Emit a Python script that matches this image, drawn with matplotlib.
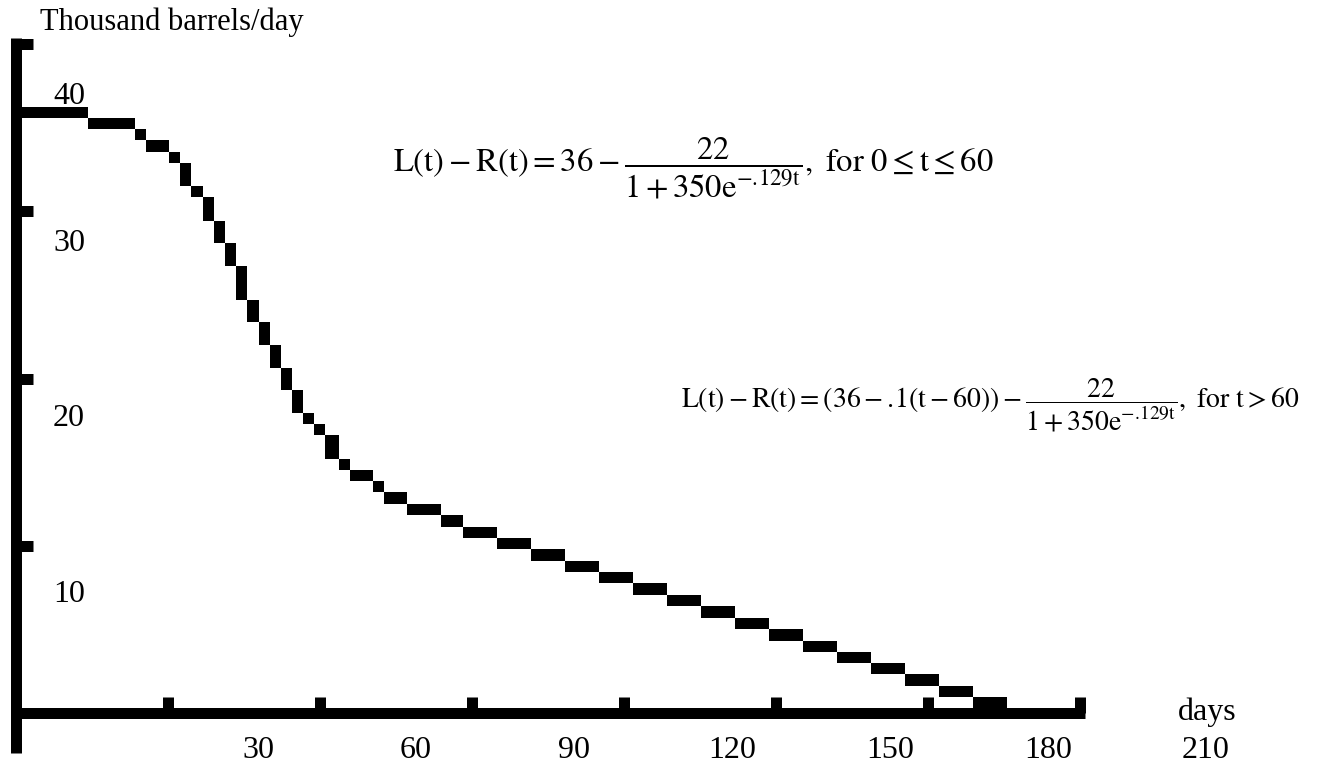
import numpy as np
import matplotlib
matplotlib.use("Agg")
import matplotlib.pyplot as plt

# кривая L(t) - R(t): начало каждой ступеньки (дни) и её уровень
step_day = [0, 14.2, 23.5, 25.7, 30.2, 32.4, 34.5, 36.9, 39.1, 41.2,
            43.4, 45.6, 48.0, 50.1, 52.3, 54.5, 56.6, 58.8, 61.0, 63.7,
            65.9, 70.5, 72.6, 77.2, 83.9, 88.2, 94.9, 101.6, 108.3, 115.1,
            121.8, 128.5, 135.2, 141.9, 148.6, 155.3, 162.0, 168.7, 175.4, 182.2,
            188.9]
step_end = 195.6
step_level = [35.90, 35.25, 34.59, 33.87, 33.21, 31.84, 31.18, 29.75, 28.43, 27.05,
              25.02, 23.71, 22.33, 20.96, 19.64, 18.27, 17.61, 16.95, 15.52, 14.87,
              14.21, 13.55, 12.83, 12.17, 11.45, 10.79, 10.13, 9.42, 8.76, 8.10,
              7.38, 6.73, 6.01, 5.35, 4.63, 3.98, 3.32, 2.66, 1.94, 1.29,
              0.63]

x_ticks = [30, 60, 90, 120, 150, 180, 210]
y_ticks = [10, 20, 30, 40]
x_tick_labels = ["30", "60", "90", "120", "150", "180", "210"]
y_tick_labels = ["10", "20", "30", "40"]

W, H = 1324, 774
LW = 11 * 72 / 100  # толщина линий 11 px
THICK = 0.658       # толщина кривой в единицах оси y

plt.rcParams["font.family"] = ["Liberation Serif", "DejaVu Serif"]
plt.rcParams["mathtext.fontset"] = "stix"
plt.rcParams["mathtext.default"] = "rm"


def px(x, y):
    """пиксели картинки -> доли фигуры"""
    return x / W, 1 - y / H


fig = plt.figure(figsize=(W / 100, H / 100), dpi=100)
ax = fig.add_axes([0, 0, 1, 1])
# t=0 -> x=16px, 5.067 px/день; v=0 -> y=713px, 16.725 px/ед.
ax.set_xlim(-16 / 5.067, (W - 16) / 5.067)
ax.set_ylim(-(H - 713) / 16.725, 713 / 16.725)
ax.axis("off")

# ступенчатая кривая
edges = np.append(step_day, step_end)
lvl = np.array(step_level)
bottoms = lvl - THICK / 2
tops = np.concatenate([[lvl[0] + THICK / 2], lvl[:-1] - THICK / 2])
ax.bar(step_day, tops - bottoms, width=np.diff(edges), bottom=bottoms,
       align="edge", color="black", linewidth=0, antialiased=False)

# оси
kw = dict(color="black", lw=LW, solid_capstyle="butt")
ax.plot([0, 0], [-2.39, 40 + THICK / 2], **kw)
ax.plot([-1, 211], [0, 0], **kw)
for v in y_ticks:
    ax.plot([0, 3.36], [v, v], **kw)
for t in x_ticks:
    ax.plot([t, t], [0, 0.96], **kw)

# подписи делений (в оригинале смещены относительно самих делений)
y_label_px = [594, 419, 243.5, 96.5]
for lab, yp in zip(y_tick_labels, y_label_px):
    fig.text(*px(69, yp), lab, fontsize=23, ha="center", va="center")
for i, lab in enumerate(x_tick_labels):
    fig.text(*px(258 + 158 * i, 750), lab, fontsize=23, ha="center", va="center")

fig.text(*px(40, 22), "Thousand barrels/day", fontsize=22, ha="left", va="center")
fig.text(*px(1207, 712), "days", fontsize=23, ha="center", va="center")

f1 = r"$L(t)-R(t)=36-\dfrac{22}{1+350e^{-.\!129t}},\ \mathrm{for}\ 0\leq t\leq 60$"
f2 = (r"$L(t)-R(t)=\left(36-.\!1(t-60)\right)-\dfrac{22}{1+350e^{-.\!129t}},"
      r"\ \mathrm{for}\ t>60$")
fig.text(*px(693, 168), f1, fontsize=23.5, ha="center", va="center")
fig.text(*px(990, 405), f2, fontsize=20, ha="center", va="center")

fig.savefig("out.png", dpi=100, facecolor="white")
